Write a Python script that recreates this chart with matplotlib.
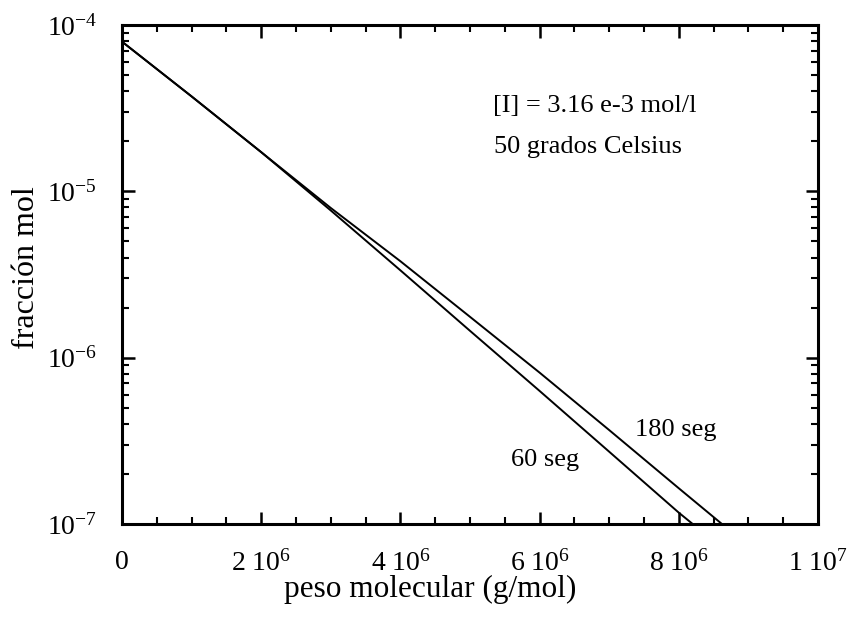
import matplotlib
matplotlib.use("Agg")
import matplotlib.pyplot as plt
from matplotlib.ticker import FixedLocator, MultipleLocator, LogLocator, NullFormatter

plt.rcParams['font.family'] = ['Liberation Serif', 'DejaVu Serif']
plt.rcParams['mathtext.fontset'] = 'custom'
plt.rcParams['mathtext.rm'] = 'Liberation Serif'
plt.rcParams['mathtext.it'] = 'Liberation Serif:italic'

# Data
peso_60 = [0, 1e6, 2e6, 3e6, 4e6, 5e6, 6e6, 7e6, 8e6, 8.2e6]
frac_60 = [7.94e-5, 3.72e-5, 1.72e-5, 7.67e-6, 3.35e-6, 1.45e-6, 6.31e-7, 2.72e-7, 1.17e-7, 1.0e-7]
peso_180 = [0, 1e6, 2e6, 3e6, 4e6, 5e6, 6e6, 7e6, 8e6, 8.62e6]
frac_180 = [7.94e-5, 3.72e-5, 1.72e-5, 7.94e-6, 3.80e-6, 1.76e-6, 8.13e-7, 3.67e-7, 1.64e-7, 1.0e-7]

xticks = [0, 2e6, 4e6, 6e6, 8e6, 1e7]
xticklabels = ['0', r'$2\ 10^{6}$', r'$4\ 10^{6}$', r'$6\ 10^{6}$', r'$8\ 10^{6}$', r'$1\ 10^{7}$']
yticks = [1e-7, 1e-6, 1e-5, 1e-4]
yticklabels = [r'$10^{-7}$', r'$10^{-6}$', r'$10^{-5}$', r'$10^{-4}$']

fig = plt.figure(figsize=(8.49, 6.17), dpi=100)
ax = fig.add_axes([0.1437, 0.1507, 0.8198, 0.8088])

ax.plot(peso_60, frac_60, color='black', lw=1.4)
ax.plot(peso_180, frac_180, color='black', lw=1.4)

ax.set_yscale('log')
ax.set_xlim(0, 1e7)
ax.set_ylim(1e-7, 1e-4)

ax.xaxis.set_major_locator(FixedLocator(xticks))
ax.set_xticklabels(xticklabels)
ax.xaxis.set_minor_locator(MultipleLocator(5e5))
ax.yaxis.set_major_locator(FixedLocator(yticks))
ax.set_yticklabels(yticklabels)
ax.yaxis.set_minor_locator(LogLocator(base=10, subs=range(2, 10)))
ax.yaxis.set_minor_formatter(NullFormatter())

ax.tick_params(which='both', direction='in', top=True, right=True, color='black')
ax.tick_params(which='major', length=9, width=1.8, labelsize=20)
ax.tick_params(which='minor', length=5, width=1.5)
ax.tick_params(axis='x', which='major', pad=19)
ax.tick_params(axis='y', which='major', pad=18)

for s in ax.spines.values():
    s.set_linewidth(2.2)
    s.set_color('black')

ax.set_xlabel('peso molecular (g/mol)', fontsize=22.5)
ax.xaxis.set_label_coords(0.4425, -0.132)
ax.xaxis.label.set_va('center')
ax.set_ylabel('fracción mol', fontsize=23)
ax.yaxis.set_label_coords(-0.1365, 0.513)
ax.yaxis.label.set_va('center')

ax.text(0.679, 0.838, '[I] = 3.16 e-3 mol/l', transform=ax.transAxes, fontsize=19,
        ha='center', va='center')
ax.text(0.67, 0.755, '50 grados Celsius', transform=ax.transAxes, fontsize=19,
        ha='center', va='center')
ax.text(0.796, 0.188, '180 seg', transform=ax.transAxes, fontsize=19, ha='center', va='center')
ax.text(0.608, 0.128, '60 seg', transform=ax.transAxes, fontsize=19, ha='center', va='center')

fig.savefig('out.png', dpi=100)
